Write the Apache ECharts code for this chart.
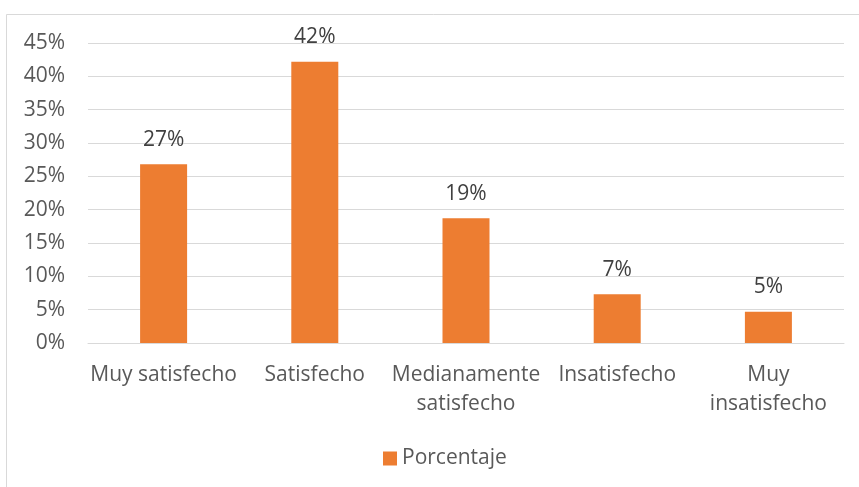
<!DOCTYPE html>
<html>
<head>
<meta charset="utf-8">
<script src="https://cdn.jsdelivr.net/npm/echarts@6/dist/echarts.min.js"></script>
<style>
  html, body { margin: 0; padding: 0; background: #ffffff; }
  #chart { width: 859px; height: 487px; }
</style>
</head>
<body>
<div id="chart"></div>
<script>
// Satisfaction levels (x-axis categories, line breaks as displayed)
const categories = ['Muy satisfecho', 'Satisfecho', 'Medianamente\nsatisfecho', 'Insatisfecho', 'Muy\ninsatisfecho'];
// Share of respondents, in percent
const porcentaje = [26.8, 42.2, 18.7, 7.3, 4.7];
const seriesName = 'Porcentaje';

const FONT = '"Open Sans", "Noto Sans", sans-serif';
const FS = 21;
const chart = echarts.init(document.getElementById('chart'), null, { renderer: 'canvas' });

chart.setOption({
  animation: false,
  backgroundColor: '#ffffff',
  textStyle: { fontFamily: FONT },
  graphic: [{
    type: 'rect',
    shape: { x: 6.5, y: 14.5, width: 900, height: 500 },
    style: { fill: 'none', stroke: '#d9d9d9', lineWidth: 1 },
    silent: true,
    z: -1
  }],
  grid: { left: 88, right: 15, top: 43, bottom: 144, containLabel: false },
  legend: {
    data: [seriesName],
    left: 378,
    top: 443,
    icon: 'rect',
    itemWidth: 14,
    itemHeight: 14,
    itemGap: 6,
    textStyle: { color: '#595959', fontSize: FS, fontFamily: FONT }
  },
  xAxis: {
    type: 'category',
    data: categories,
    axisLine: { show: true, lineStyle: { color: '#d9d9d9', width: 1 } },
    axisTick: { show: false },
    axisLabel: {
      color: '#595959', fontSize: FS, fontFamily: FONT,
      lineHeight: 29, margin: 18, interval: 0
    }
  },
  yAxis: {
    type: 'value',
    min: 0,
    max: 45,
    interval: 5,
    axisLine: { show: false },
    axisTick: { show: false },
    splitLine: { lineStyle: { color: '#d9d9d9', width: 1 } },
    axisLabel: {
      color: '#595959', fontSize: FS, fontFamily: FONT, margin: 23,
      formatter: v => v + '%'
    }
  },
  series: [{
    name: seriesName,
    type: 'bar',
    data: porcentaje,
    barWidth: 47,
    itemStyle: { color: '#ED7D31' },
    label: {
      show: true,
      position: 'top',
      distance: 14,
      color: '#404040',
      fontSize: FS,
      fontFamily: FONT,
      formatter: p => Math.round(p.value) + '%'
    }
  }]
});
</script>
</body>
</html>
